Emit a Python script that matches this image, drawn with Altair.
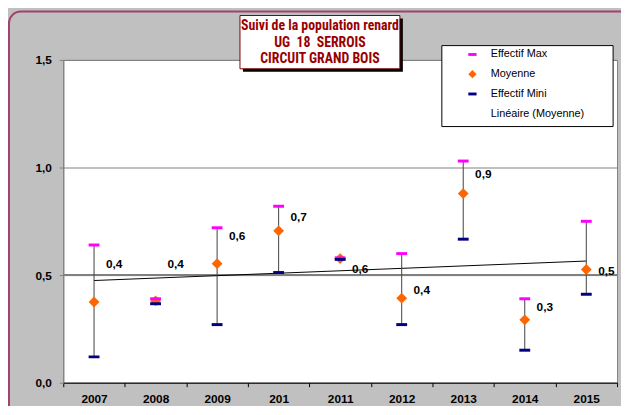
import altair as alt
import numpy as np
import pandas as pd

# ---- data ----
annees = ["2007", "2008", "2009", "201", "2011", "2012", "2013", "2014", "2015"]
effectif_max = [0.64, 0.39, 0.72, 0.82, 0.58, 0.60, 1.03, 0.39, 0.75]
moyenne = [0.375, 0.38, 0.553, 0.706, 0.577, 0.393, 0.879, 0.292, 0.526]
effectif_min = [0.12, 0.367, 0.27, 0.512, 0.573, 0.27, 0.667, 0.151, 0.411]
etiquettes = ["0,4", "0,4", "0,6", "0,7", "0,6", "0,4", "0,9", "0,3", "0,5"]
etiquette_pos = [0.55, 0.55, 0.68, 0.77, 0.53, 0.43, 0.97, 0.35, 0.52]
series = ["Effectif Max", "Moyenne", "Effectif Mini", "Linéaire (Moyenne)"]
titre = ["Suivi de la population renard", "UG\u00a0\u00a018\u00a0\u00a0SERROIS", "CIRCUIT GRAND BOIS"]
ligne_ref = [0.5]

df = pd.DataFrame({
    "annee": annees, "max": effectif_max, "moy": moyenne, "min": effectif_min,
    "lab": etiquettes, "lab_y": etiquette_pos, "serie": "Moyenne",
})

# linear trend of the means (Excel "Linéaire (Moyenne)")
idx = np.arange(len(moyenne))
pente, orig = np.polyfit(idx, moyenne, 1)
trend = pd.DataFrame({"annee": [annees[0], annees[-1]],
                      "val": [orig, orig + pente * idx[-1]]})

W, H = 561, 327
FONT = "Liberation Sans, Arial, sans-serif"

x_enc = alt.X("annee:N", sort=annees,
              scale=alt.Scale(paddingInner=0, paddingOuter=0),
              axis=alt.Axis(title=None, labelAngle=0, labelFont=FONT, labelFontSize=12,
                            labelFontWeight="bold", labelColor="black",
                            domainColor="black", tickColor="black", tickSize=4,
                            tickBand="extent", labelPadding=7, grid=False))
y_scale = alt.Scale(domain=[0, 1.5], nice=False, zero=True)
y_axis = alt.Axis(title=None, values=[0, 0.5, 1, 1.5],
                  labelExpr="replace(format(datum.value, '.1f'), '.', ',')",
                  labelFont=FONT, labelFontSize=12, labelFontWeight="bold",
                  labelColor="black", grid=True, gridColor="#808080", gridWidth=1,
                  domainColor="#808080", tickColor="#808080", tickSize=4,
                  labelPadding=8)

one = alt.Data(values=[{"a": 1}])

# outer frame (decoration)
frame = alt.Chart(one).mark_rect(fillOpacity=0, stroke="#A0416F", strokeWidth=2,
                                 cornerRadius=12).encode(
    x=alt.value(-55), x2=alt.value(W + 30), y=alt.value(-49), y2=alt.value(H + 60))

ref = alt.Chart(pd.DataFrame({"v": ligne_ref})).mark_rule(color="#808080", strokeWidth=2).encode(
    y=alt.Y("v:Q", scale=y_scale, axis=y_axis))

trend_line = alt.Chart(trend).mark_line(color="black", strokeWidth=1).encode(
    x=x_enc, y=alt.Y("val:Q", scale=y_scale, axis=y_axis))

whisk = alt.Chart(df).mark_rule(color="#404040", strokeWidth=1).encode(
    x=x_enc, y=alt.Y("min:Q", scale=y_scale, axis=y_axis), y2="max:Q")

leg = alt.Legend(orient="none", legendX=383, legendY=-11, title=None, padding=0,
                 symbolOffset=26, labelOffset=13, rowPadding=8, labelFont=FONT,
                 labelFontSize=11, labelColor="black", symbolSize=70,
                 symbolStrokeWidth=0)
dash = "M-1,-0.35L1,-0.35L1,0.35L-1,0.35Z"
pts = alt.Chart(df).mark_point(filled=True, size=120, opacity=1).encode(
    x=x_enc, y=alt.Y("moy:Q", scale=y_scale, axis=y_axis),
    color=alt.Color("serie:N", scale=alt.Scale(domain=series,
                    range=["#FF00FF", "#FF6600", "#000080", "#FFFFFF"]), legend=leg),
    shape=alt.Shape("serie:N", scale=alt.Scale(domain=series,
                    range=[dash, "diamond", dash, "M0,0Z"]), legend=leg))

tick_max = alt.Chart(df).mark_tick(color="#FF00FF", size=11, thickness=3, opacity=1).encode(
    x=x_enc, y=alt.Y("max:Q", scale=y_scale, axis=y_axis))
tick_min = alt.Chart(df).mark_tick(color="#000080", size=11, thickness=3, opacity=1).encode(
    x=x_enc, y=alt.Y("min:Q", scale=y_scale, axis=y_axis))

labels = alt.Chart(df).mark_text(align="left", baseline="middle", dx=12, font=FONT,
                                 fontSize=12, fontWeight="bold", color="black").encode(
    x=x_enc, y=alt.Y("lab_y:Q", scale=y_scale, axis=y_axis), text="lab:N")

legend_box = alt.Chart(one).mark_rect(fill="white", stroke="black", strokeWidth=1).encode(
    x=alt.value(383.5), x2=alt.value(557), y=alt.value(-14.5), y2=alt.value(67.5))

title_shadow = alt.Chart(one).mark_rect(fill="black").encode(
    x=alt.value(182), x2=alt.value(344), y=alt.value(-42), y2=alt.value(12))
title_box = alt.Chart(one).mark_rect(fill="white", stroke="#800000", strokeWidth=1).encode(
    x=alt.value(179), x2=alt.value(341), y=alt.value(-45), y2=alt.value(9))
title_txt = alt.Chart(one).mark_text(
    font="Liberation Sans Narrow, Roboto Condensed, Liberation Sans, sans-serif",
    fontSize=14, fontWeight="bold", color="#990000", align="center", baseline="middle",
    lineHeight=16.5).encode(
    x=alt.value(260), y=alt.value(-34), text=alt.value(titre))

chart = alt.layer(
    frame, ref, trend_line, whisk, pts, tick_max, tick_min, labels,
    legend_box, title_shadow, title_box, title_txt
).properties(
    width=W, height=H, background="#C0C0C0",
    autosize=alt.AutoSizeParams(type="none"),
    padding={"left": 56, "top": 50, "right": 4, "bottom": 21},
).configure_view(fill="white", stroke="#808080", strokeWidth=1)

chart.save("out.html", embed_options={"renderer": "svg", "actions": False})
